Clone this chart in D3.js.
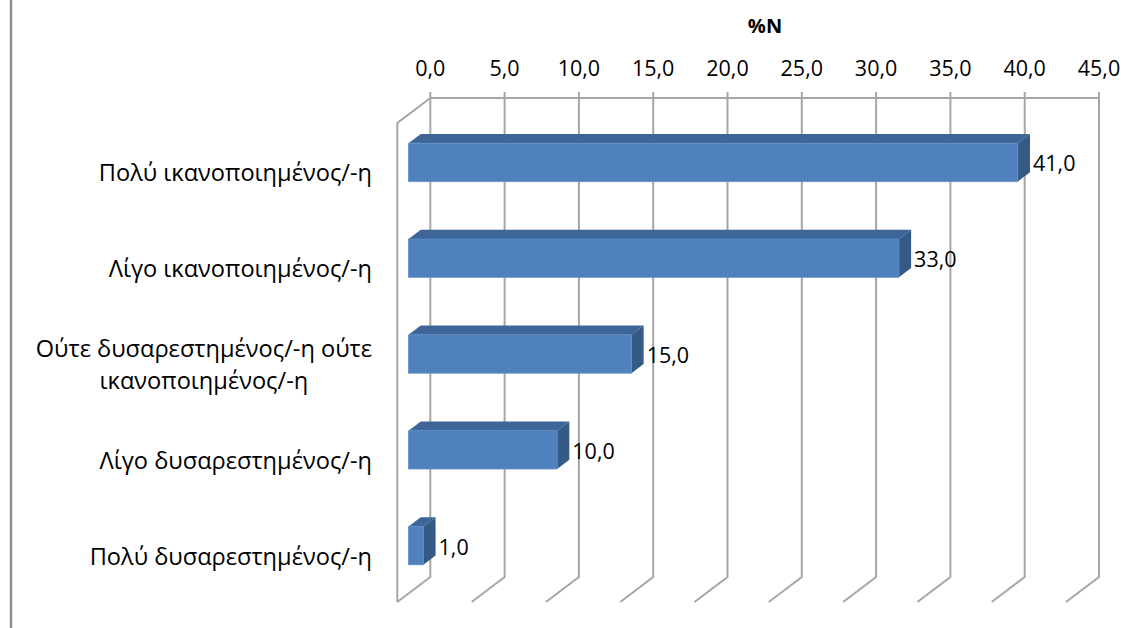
<!DOCTYPE html>
<html>
<head>
<meta charset="utf-8">
<script src="https://cdn.jsdelivr.net/npm/d3@7"></script>
<style>
  html, body { margin: 0; padding: 0; background: #ffffff; }
  svg { display: block; }
  text { font-family: "Open Sans", "Noto Sans", sans-serif; fill: #000; }
</style>
</head>
<body>
<svg id="chart" width="1126" height="628"></svg>
<script>
// Satisfaction levels (top to bottom) and their share of respondents, %N
const categories = [
  "Πολύ ικανοποιημένος/-η",
  "Λίγο ικανοποιημένος/-η",
  "Ούτε δυσαρεστημένος/-η ούτε ικανοποιημένος/-η",
  "Λίγο δυσαρεστημένος/-η",
  "Πολύ δυσαρεστημένος/-η"
];
const categoryLines = [
  ["Πολύ ικανοποιημένος/-η"],
  ["Λίγο ικανοποιημένος/-η"],
  ["Ούτε δυσαρεστημένος/-η ούτε", "ικανοποιημένος/-η"],
  ["Λίγο δυσαρεστημένος/-η"],
  ["Πολύ δυσαρεστημένος/-η"]
];
const values = [41.0, 33.0, 15.0, 10.0, 1.0];
const tickValues = [0, 5, 10, 15, 20, 25, 30, 35, 40, 45];
const axisTitle = "%N";

const svg = d3.select("#chart");
const fmt = v => v.toFixed(1).replace(".", ",");

// Oblique projection: the floor/back wall sit one "depth" unit behind the front plane
const depth = { dx: 33, dy: -25 };
const shift = (p, d) => [p[0] + depth.dx * d, p[1] + depth.dy * d];

// Scales on the front plane
const x = d3.scaleLinear().domain([0, 45]).range([397.3, 1066]);
const y = d3.scaleBand().domain(categories).range([123, 602])
  .paddingInner(0.6).paddingOuter(0.3);

const frontTop = 123, frontBottom = 602;
const barFront = 0.34, barBack = 0.71;
const numSize = 21.5, catSize = 23.6;

// Outer frame line on the left
svg.append("line")
  .attr("x1", 11).attr("x2", 11).attr("y1", 0).attr("y2", 628)
  .attr("stroke", "#8c8c8c").attr("stroke-width", 2.5);

// Walls and gridlines
const grid = svg.append("g").attr("fill", "none")
  .attr("stroke", "#a6a6a6").attr("stroke-width", 2);

// Left side wall
grid.append("path").attr("d", d3.line()([
  [x(0), frontBottom], [x(0), frontTop], shift([x(0), frontTop], 1)
]));

// Top edge of the back wall
grid.append("line")
  .attr("x1", x(0) + depth.dx).attr("x2", x(45) + depth.dx)
  .attr("y1", frontTop + depth.dy).attr("y2", frontTop + depth.dy);

// Vertical gridlines on the back wall, running down and forward across the floor
tickValues.forEach(v => {
  const bTop = shift([x(v), frontTop], 1);
  const bBot = shift([x(v), frontBottom], 1);
  grid.append("path").attr("d", d3.line()([
    [bTop[0], bTop[1] - 6], bBot, [x(v), frontBottom]
  ]));
});

// Tick labels along the top
svg.append("g").selectAll("text").data(tickValues).join("text")
  .attr("x", v => x(v) + depth.dx)
  .attr("y", 76)
  .attr("text-anchor", "middle")
  .attr("font-size", numSize)
  .text(fmt);

// Axis title
svg.append("text")
  .attr("x", 765).attr("y", 33)
  .attr("text-anchor", "middle")
  .attr("font-size", 20).attr("font-weight", "bold")
  .text(axisTitle);

// 3D bars: top face, end face, then front face
const bars = svg.append("g");
categories.forEach((c, i) => {
  const v = values[i];
  const y0 = y(c), y1 = y(c) + y.bandwidth();
  const fTL = shift([x(0), y0], barFront), fTR = shift([x(v), y0], barFront);
  const fBR = shift([x(v), y1], barFront), fBL = shift([x(0), y1], barFront);
  const bTL = shift([x(0), y0], barBack), bTR = shift([x(v), y0], barBack);
  const bBR = shift([x(v), y1], barBack);
  const g = bars.append("g");
  g.append("path").attr("d", d3.line()([fTL, bTL, bTR, fTR]) + "Z")
    .attr("fill", "#3d6597");
  g.append("path").attr("d", d3.line()([fTR, bTR, bBR, fBR]) + "Z")
    .attr("fill", "#365a86");
  g.append("path").attr("d", d3.line()([fTL, fTR, fBR, fBL]) + "Z")
    .attr("fill", "#4f81bd").attr("stroke", "#5b8cc6").attr("stroke-width", 0.8);

  // Value label to the right of the bar's end face
  g.append("text")
    .attr("x", bTR[0] + 3)
    .attr("y", (fTR[1] + fBR[1]) / 2 + 9)
    .attr("font-size", numSize)
    .text(fmt(v));
});

// Category labels, right aligned; wrapped labels are centred within their block
const labelRight = 372, lineGap = 31.7;
categories.forEach((c, i) => {
  const lines = categoryLines[i];
  const cy = y(c) + y.bandwidth() / 2;
  const g = svg.append("g");
  const texts = lines.map((ln, k) => g.append("text")
    .attr("font-size", catSize)
    .attr("y", cy + 10.5 + (k - (lines.length - 1) / 2) * lineGap)
    .text(ln));
  if (lines.length === 1) {
    texts[0].attr("x", labelRight).attr("text-anchor", "end");
  } else {
    const w = d3.max(texts, t => t.node().getComputedTextLength());
    texts.forEach(t => t.attr("x", labelRight - w / 2).attr("text-anchor", "middle"));
  }
});
</script>
</body>
</html>
